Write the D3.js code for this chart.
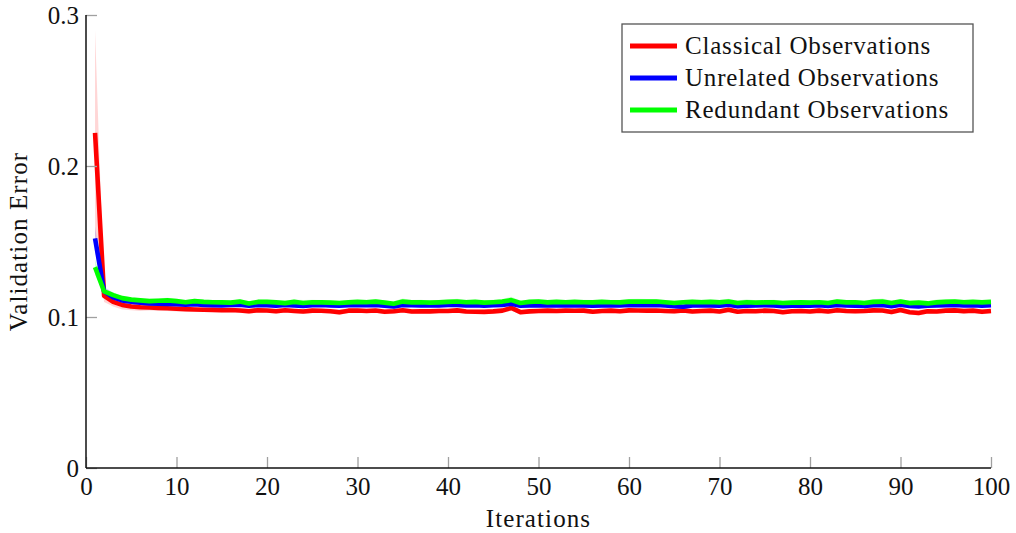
<!DOCTYPE html>
<html>
<head>
<meta charset="utf-8">
<script src="https://cdn.jsdelivr.net/npm/d3@7"></script>
<style>
  body { margin: 0; background: #fff; }
  svg text { font-family: "Liberation Serif", "Times New Roman", serif; fill: #111; }
</style>
</head>
<body>
<div id="container"></div>
<script>
// data

const iterations = d3.range(1, 101)

const classical = [
    0.222, 0.114, 0.110, 0.108, 0.107, 0.1065, 0.1063, 0.1060, 0.1058, 0.1055,
    0.1052, 0.1050, 0.1048, 0.1047, 0.1045, 0.1046, 0.1043, 0.1038, 0.1045, 0.1043,
    0.1038, 0.1045, 0.1040, 0.1036, 0.1042, 0.1041, 0.1038, 0.1032, 0.1042, 0.1043,
    0.1040, 0.1043, 0.1035, 0.1038, 0.1045, 0.1036, 0.1038, 0.1037, 0.1040, 0.1040,
    0.1044, 0.1036, 0.1035, 0.1034, 0.1037, 0.1042, 0.1060, 0.1032, 0.1037, 0.1040,
    0.1042, 0.1040, 0.1042, 0.1041, 0.1042, 0.1035, 0.1040, 0.1042, 0.1038, 0.1044,
    0.1043, 0.1042, 0.1043, 0.1040, 0.1038, 0.1043, 0.1036, 0.1040, 0.1042, 0.1036,
    0.1048, 0.1035, 0.1040, 0.1038, 0.1042, 0.1040, 0.1032, 0.1038, 0.1040, 0.1036,
    0.1042, 0.1036, 0.1045, 0.1040, 0.1038, 0.1040, 0.1044, 0.1043, 0.1033, 0.1046,
    0.1032, 0.1027, 0.1038, 0.1036, 0.1042, 0.1044, 0.1039, 0.1042, 0.1035, 0.1040
]

const unrelated = [
    0.152, 0.117, 0.113, 0.111, 0.1102, 0.1095, 0.1090, 0.1088, 0.1087, 0.1085,
    0.1082, 0.1085, 0.1080, 0.1078, 0.1077, 0.1080, 0.1082, 0.1075, 0.1080, 0.1078,
    0.1075, 0.1080, 0.1077, 0.1073, 0.1078, 0.1080, 0.1077, 0.1075, 0.1078, 0.1080,
    0.1078, 0.1080, 0.1075, 0.1070, 0.1080, 0.1078, 0.1077, 0.1078, 0.1077, 0.1080,
    0.1080, 0.1077, 0.1078, 0.1075, 0.1078, 0.1080, 0.1088, 0.1075, 0.1077, 0.1078,
    0.1077, 0.1078, 0.1077, 0.1078, 0.1077, 0.1075, 0.1077, 0.1078, 0.1077, 0.1080,
    0.1078, 0.1078, 0.1080, 0.1077, 0.1072, 0.1068, 0.1077, 0.1078, 0.1077, 0.1075,
    0.1082, 0.1072, 0.1075, 0.1077, 0.1078, 0.1077, 0.1072, 0.1075, 0.1077, 0.1075,
    0.1078, 0.1073, 0.1080, 0.1077, 0.1075, 0.1073, 0.1078, 0.1080, 0.1072, 0.1082,
    0.1073, 0.1070, 0.1075, 0.1077, 0.1078, 0.1080, 0.1077, 0.1078, 0.1075, 0.1078
]

const redundant = [
    0.133, 0.117, 0.1145, 0.1125, 0.1115, 0.1110, 0.1105, 0.1108, 0.1110, 0.1105,
    0.1098, 0.1105, 0.1100, 0.1098, 0.1097, 0.1095, 0.1102, 0.1090, 0.1100, 0.1100,
    0.1097, 0.1092, 0.1100, 0.1093, 0.1098, 0.1097, 0.1095, 0.1093, 0.1097, 0.1100,
    0.1098, 0.1102, 0.1095, 0.1088, 0.1102, 0.1097, 0.1098, 0.1095, 0.1097, 0.1100,
    0.1103, 0.1098, 0.1100, 0.1095, 0.1098, 0.1102, 0.1112, 0.1093, 0.1100, 0.1103,
    0.1097, 0.1100, 0.1098, 0.1100, 0.1098, 0.1097, 0.1100, 0.1098, 0.1097, 0.1102,
    0.1103, 0.1102, 0.1103, 0.1098, 0.1093, 0.1098, 0.1100, 0.1098, 0.1100, 0.1097,
    0.1103, 0.1093, 0.1098, 0.1095, 0.1097, 0.1098, 0.1093, 0.1095, 0.1097, 0.1095,
    0.1098, 0.1093, 0.1102, 0.1097, 0.1098, 0.1093, 0.1100, 0.1102, 0.1093, 0.1103,
    0.1092, 0.1095, 0.1090, 0.1097, 0.1100, 0.1103, 0.1098, 0.1100, 0.1097, 0.1100
]

// half-width of the shaded band around each mean
const classicalSpread = [
    0.068, 0.004, 0.003, 0.003, 0.0025, 0.0025, 0.002, 0.002, 0.0018, 0.0018,
    0.0015, 0.0016, 0.0015, 0.0014, 0.0015, 0.0014, 0.0015, 0.0018, 0.0014, 0.0015,
    0.0016, 0.0015, 0.0014, 0.0016, 0.0015, 0.0014, 0.0015, 0.0018, 0.0014, 0.0015,
    0.0014, 0.0015, 0.0016, 0.0018, 0.0014, 0.0016, 0.0015, 0.0014, 0.0015, 0.0014,
    0.0015, 0.0016, 0.0015, 0.0014, 0.0015, 0.0016, 0.0018, 0.0016, 0.0014, 0.0015,
    0.0014, 0.0015, 0.0014, 0.0015, 0.0014, 0.0015, 0.0014, 0.0015, 0.0014, 0.0015,
    0.0014, 0.0015, 0.0014, 0.0015, 0.0016, 0.0015, 0.0014, 0.0015, 0.0014, 0.0016,
    0.0017, 0.0015, 0.0014, 0.0015, 0.0014, 0.0015, 0.0016, 0.0015, 0.0014, 0.0015,
    0.0014, 0.0015, 0.0016, 0.0015, 0.0014, 0.0015, 0.0016, 0.0015, 0.0017, 0.0016,
    0.0016, 0.0017, 0.0015, 0.0014, 0.0015, 0.0016, 0.0015, 0.0014, 0.0016, 0.0015
]

const unrelatedSpread = [
    0.008, 0.003, 0.003, 0.0025, 0.002, 0.0018, 0.0016, 0.0015, 0.0014, 0.0014,
    0.0012, 0.0013, 0.0012, 0.0012, 0.0013, 0.0012, 0.0012, 0.0013, 0.0012, 0.0012,
    0.0013, 0.0012, 0.0012, 0.0013, 0.0012, 0.0012, 0.0013, 0.0012, 0.0012, 0.0012,
    0.0013, 0.0012, 0.0012, 0.0014, 0.0012, 0.0012, 0.0013, 0.0012, 0.0012, 0.0012,
    0.0013, 0.0012, 0.0012, 0.0013, 0.0012, 0.0013, 0.0015, 0.0013, 0.0012, 0.0012,
    0.0013, 0.0012, 0.0012, 0.0012, 0.0013, 0.0012, 0.0012, 0.0013, 0.0012, 0.0012,
    0.0013, 0.0012, 0.0012, 0.0012, 0.0014, 0.0015, 0.0012, 0.0012, 0.0013, 0.0012,
    0.0014, 0.0013, 0.0012, 0.0012, 0.0013, 0.0012, 0.0013, 0.0012, 0.0012, 0.0012,
    0.0013, 0.0012, 0.0013, 0.0012, 0.0012, 0.0013, 0.0012, 0.0014, 0.0013, 0.0014,
    0.0013, 0.0014, 0.0012, 0.0012, 0.0013, 0.0012, 0.0012, 0.0013, 0.0012, 0.0012
]

const redundantSpread = [
    0.005, 0.002, 0.0018, 0.0016, 0.0015, 0.0015, 0.0016, 0.0017, 0.0018, 0.0016,
    0.0015, 0.0016, 0.0015, 0.0015, 0.0016, 0.0015, 0.0016, 0.0015, 0.0016, 0.0015,
    0.0016, 0.0018, 0.0016, 0.0020, 0.0016, 0.0015, 0.0016, 0.0015, 0.0016, 0.0015,
    0.0016, 0.0017, 0.0015, 0.0016, 0.0020, 0.0015, 0.0016, 0.0015, 0.0016, 0.0016,
    0.0018, 0.0016, 0.0015, 0.0016, 0.0016, 0.0018, 0.0022, 0.0016, 0.0015, 0.0016,
    0.0015, 0.0016, 0.0015, 0.0015, 0.0016, 0.0015, 0.0016, 0.0015, 0.0016, 0.0017,
    0.0018, 0.0017, 0.0016, 0.0015, 0.0016, 0.0015, 0.0016, 0.0018, 0.0016, 0.0015,
    0.0018, 0.0016, 0.0019, 0.0016, 0.0015, 0.0016, 0.0015, 0.0016, 0.0015, 0.0016,
    0.0015, 0.0016, 0.0017, 0.0016, 0.0015, 0.0016, 0.0017, 0.0020, 0.0016, 0.0017,
    0.0016, 0.0015, 0.0016, 0.0019, 0.0020, 0.0017, 0.0016, 0.0015, 0.0016, 0.0015
]

const xTicks = [0, 10, 20, 30, 40, 50, 60, 70, 80, 90, 100]
const yTicks = [0, 0.1, 0.2, 0.3]

const series = [
    { name: 'Classical Observations', color: '#ff0000', mean: classical, spread: classicalSpread },
    { name: 'Unrelated Observations', color: '#0000ff', mean: unrelated, spread: unrelatedSpread },
    { name: 'Redundant Observations', color: '#00ff00', mean: redundant, spread: redundantSpread }
]

const width = 1016
const height = 533
const margin = { top: 15, right: 25, bottom: 65, left: 86 }

const svg = d3.select('#container').append('svg')
    .attr('width', width).attr('height', height)

const xScale = d3.scaleLinear()
    .domain([0, 100])
    .range([margin.left, width - margin.right])

const yScale = d3.scaleLinear()
    .domain([0, 0.3])
    .range([height - margin.bottom, margin.top])

// bands first, then lines on top of them
series.forEach(s => {
    const pts = iterations.map((it, i) => ({ x: it, m: s.mean[i], sd: s.spread[i] }))

    const area = d3.area()
        .x(d => xScale(d.x))
        .y0(d => yScale(d.m - d.sd))
        .y1(d => yScale(d.m + d.sd))

    svg.append('path')
        .datum(pts)
        .attr('d', area)
        .attr('fill', s.color)
        .attr('fill-opacity', 0.16)
        .attr('stroke', 'none')
})

series.forEach(s => {
    const pts = iterations.map((it, i) => ({ x: it, m: s.mean[i] }))
    const line = d3.line()
        .x(d => xScale(d.x))
        .y(d => yScale(d.m))

    svg.append('path')
        .datum(pts)
        .attr('d', line)
        .attr('fill', 'none')
        .attr('stroke', s.color)
        .attr('stroke-width', 4.6)
        .attr('stroke-linejoin', 'round')
})

// axes
const xAxis = d3.axisBottom(xScale)
    .tickValues(xTicks)
    .tickSize(0)
    .tickPadding(10)
    .tickFormat(d3.format('d'))

const gx = svg.append('g').attr('id', 'x-axis')
    .attr('transform', `translate(0, ${height - margin.bottom})`)
    .call(xAxis)
gx.select('.domain').remove()
gx.selectAll('text').style('font-size', '25px').attr('dy', '0.68em').attr('fill', '#111')
gx.selectAll('.tick').append('line')
    .attr('y1', 0).attr('y2', -11)
    .attr('stroke', '#a0a0a0').attr('stroke-width', 1.3)

const yAxis = d3.axisLeft(yScale)
    .tickValues(yTicks)
    .tickSize(0)
    .tickPadding(7)
    .tickFormat(d => d === 0 ? '0' : d3.format('.1f')(d))

const gy = svg.append('g').attr('id', 'y-axis')
    .attr('transform', `translate(${margin.left}, 0)`)
    .call(yAxis)
gy.select('.domain').remove()
gy.selectAll('text').style('font-size', '25px').attr('fill', '#111')
gy.selectAll('.tick').append('line')
    .attr('x1', 0).attr('x2', 11)
    .attr('stroke', '#a0a0a0').attr('stroke-width', 1.3)

// axis lines, left and bottom only
svg.append('line')
    .attr('x1', margin.left).attr('x2', margin.left)
    .attr('y1', margin.top).attr('y2', height - margin.bottom)
    .attr('stroke', '#111').attr('stroke-width', 1.5)
svg.append('line')
    .attr('x1', margin.left).attr('x2', width - margin.right)
    .attr('y1', height - margin.bottom).attr('y2', height - margin.bottom)
    .attr('stroke', '#111').attr('stroke-width', 1.5)

// axis titles
svg.append('text')
    .text('Iterations')
    .attr('x', (margin.left + width - margin.right) / 2)
    .attr('y', 527)
    .attr('text-anchor', 'middle')
    .style('font-size', '25px')
    .style('letter-spacing', '1.1px')

svg.append('text')
    .text('Validation Error')
    .attr('transform', `translate(27, ${(margin.top + height - margin.bottom) / 2}) rotate(-90)`)
    .attr('text-anchor', 'middle')
    .style('font-size', '25px')
    .style('letter-spacing', '1.1px')

// legend
const legend = svg.append('g').attr('id', 'legend')
    .attr('transform', 'translate(622, 24)')

legend.append('rect')
    .attr('width', 351).attr('height', 108)
    .attr('fill', '#fff')
    .attr('stroke', '#555').attr('stroke-width', 1.3)

const rows = legend.selectAll('g.row')
    .data(series)
    .enter()
    .append('g')
    .attr('class', 'row')
    .attr('transform', (d, i) => `translate(0, ${22 + i * 32})`)

rows.append('line')
    .attr('x1', 8).attr('x2', 55)
    .attr('stroke', d => d.color)
    .attr('stroke-width', 5)

rows.append('text')
    .text(d => d.name)
    .attr('x', 63)
    .attr('dy', '0.33em')
    .style('font-size', '25px')
    .style('letter-spacing', '0.8px')
</script>
</body>
</html>
